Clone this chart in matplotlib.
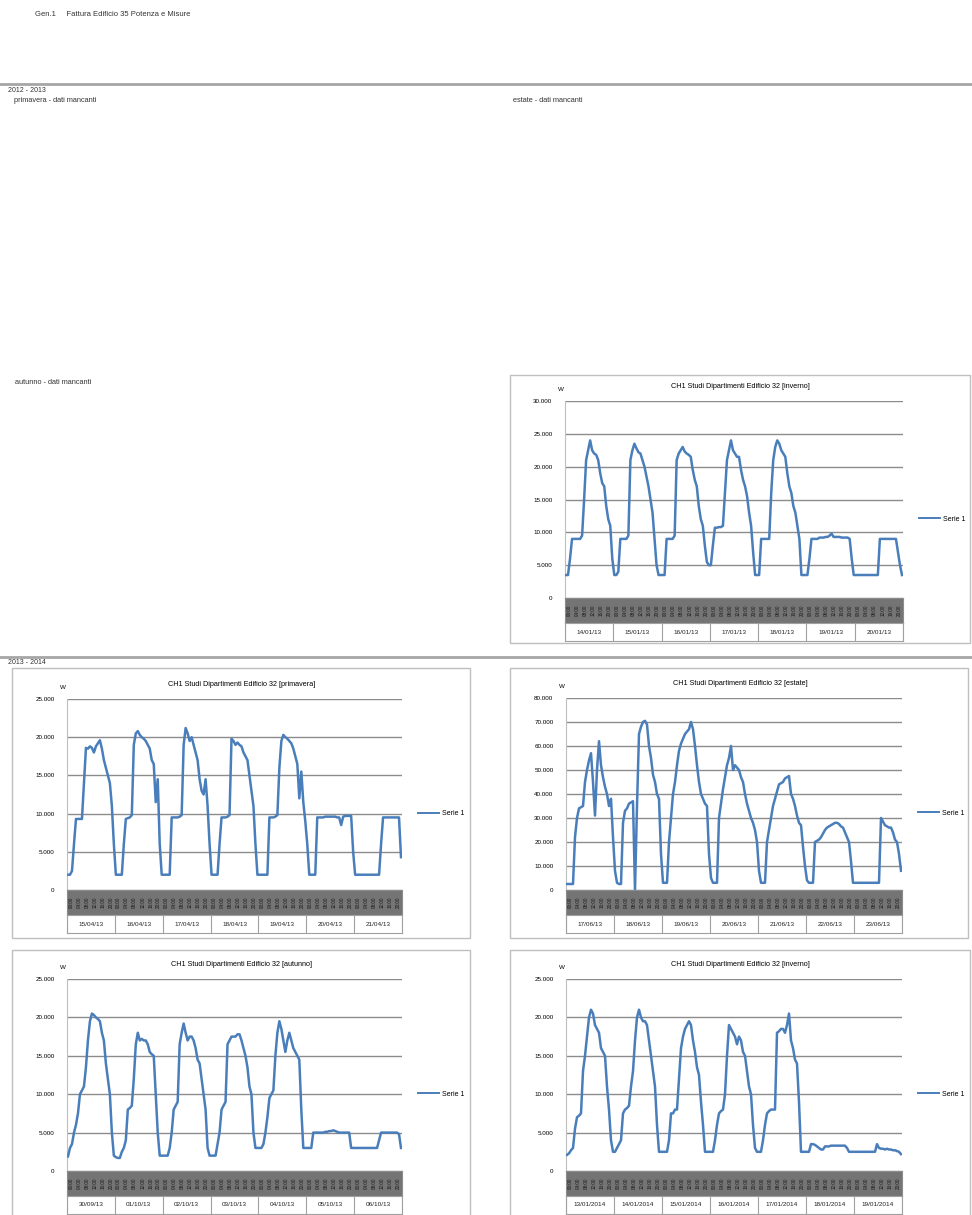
import matplotlib
matplotlib.use('Agg')
import matplotlib.pyplot as plt
from matplotlib.lines import Line2D
from matplotlib.patches import Rectangle
import numpy as np

plt.rcParams['font.family'] = ['Liberation Sans', 'DejaVu Sans']

# ---------------- text ----------------
header_text = "Gen.1     Fattura Edificio 35 Potenza e Misure"
period_labels = ["2012 - 2013", "2013 - 2014"]
missing_labels = ["primavera - dati mancanti", "estate - dati mancanti", "autunno - dati mancanti"]
legend_label = "Serie 1"
unit_label = "W"
hour_labels = ["00:00", "04:00", "08:00", "12:00", "16:00", "20:00"]

title_inv13 = "CH1 Studi Dipartimenti Edificio 32 [inverno]"
title_pri = "CH1 Studi Dipartimenti Edificio 32 [primavera]"
title_est = "CH1 Studi Dipartimenti Edificio 32 [estate]"
title_aut = "CH1 Studi Dipartimenti Edificio 32 [autunno]"
title_inv14 = "CH1 Studi Dipartimenti Edificio 32 [inverno]"

dates_inv13 = ["14/01/13", "15/01/13", "16/01/13", "17/01/13", "18/01/13", "19/01/13", "20/01/13"]
dates_pri = ["15/04/13", "16/04/13", "17/04/13", "18/04/13", "19/04/13", "20/04/13", "21/04/13"]
dates_est = ["17/06/13", "18/06/13", "19/06/13", "20/06/13", "21/06/13", "22/06/13", "23/06/13"]
dates_aut = ["30/09/13", "01/10/13", "02/10/13", "03/10/13", "04/10/13", "05/10/13", "06/10/13"]
dates_inv14 = ["13/01/2014", "14/01/2014", "15/01/2014", "16/01/2014", "17/01/2014", "18/01/2014", "19/01/2014"]

# ---------------- data (W, hourly) ----------------
values_inv13 = [
    3500, 3500, 6000, 9000, 9000, 9000, 9000, 9000, 9500, 15000, 21000, 22500, 24000, 22500, 22000, 21800, 21000, 19000, 17500, 17000, 14000, 12000, 11000, 6000,
    3500, 3500, 4000, 9000, 9000, 9000, 9000, 9500, 21000, 22500, 23500, 22800, 22200, 22000, 21000, 20000, 18500, 17000, 15000, 13000, 9000, 5000, 3500, 3500,
    3500, 3500, 9000, 9000, 9000, 9000, 9500, 21000, 22000, 22500, 23000, 22300, 22000, 21800, 21500, 19500, 18000, 17000, 14000, 12000, 11000, 8000, 5500, 5000,
    5000, 8000, 10700, 10700, 10800, 10800, 11000, 16000, 21000, 22500, 24000, 22500, 22000, 21500, 21500, 19500, 18000, 17000, 15500, 13000, 11000, 7000, 3500, 3500,
    3500, 9000, 9000, 9000, 9000, 9000, 16000, 21000, 23000, 24000, 23500, 22500, 22000, 21500, 19000, 17000, 16000, 14000, 13000, 11000, 9000, 3500, 3500, 3500,
    3500, 6000, 9000, 9000, 9000, 9000, 9200, 9200, 9200, 9300, 9300, 9500, 9800, 9300, 9300, 9300, 9300, 9200, 9200, 9200, 9200, 9000, 6000, 3500,
    3500, 3500, 3500, 3500, 3500, 3500, 3500, 3500, 3500, 3500, 3500, 3500, 9000, 9000, 9000, 9000, 9000, 9000, 9000, 9000, 9000, 7000, 5000, 3500,
]
values_pri = [
    2000, 2000, 2500, 6000, 9300, 9300, 9300, 9300, 14000, 18600, 18500, 18800, 18600, 18000, 18800, 19200, 19600, 18500, 17000, 16000, 15000, 14000, 11000, 6000,
    2000, 2000, 2000, 2000, 6000, 9300, 9400, 9500, 9800, 19000, 20500, 20800, 20300, 20000, 19800, 19500, 19000, 18500, 17000, 16500, 11500, 14500, 6000, 2000,
    2000, 2000, 2000, 2000, 9500, 9500, 9500, 9500, 9600, 9800, 19000, 21200, 20500, 19500, 20000, 19000, 18000, 17000, 14500, 13000, 12500, 14500, 11000, 6000,
    2000, 2000, 2000, 2000, 6000, 9500, 9500, 9500, 9600, 9800, 19800, 19500, 19000, 19300, 19000, 18800, 18000, 17500, 17000, 15000, 13000, 11000, 6000, 2000,
    2000, 2000, 2000, 2000, 2000, 9500, 9500, 9500, 9600, 9800, 16000, 19500, 20300, 20000, 19800, 19500, 19200, 18500, 17500, 16500, 12000, 15500, 11500, 9000,
    6000, 2000, 2000, 2000, 2000, 9500, 9500, 9500, 9500, 9600, 9600, 9600, 9600, 9600, 9600, 9500, 9500, 8500, 9600, 9700, 9700, 9700, 9700, 5000,
    2000, 2000, 2000, 2000, 2000, 2000, 2000, 2000, 2000, 2000, 2000, 2000, 2000, 6000, 9500, 9500, 9500, 9500, 9500, 9500, 9500, 9500, 9500, 4300,
]
values_est = [
    2500, 2500, 2500, 2500, 22000, 30000, 34000, 34500, 35000, 45000, 50000, 54000, 57000, 45000, 31000, 50000, 62000, 52000, 47000, 43000, 40000, 35000, 38000, 22000,
    8000, 3000, 2500, 2500, 28000, 33000, 34000, 36000, 36500, 37000, 0, 35000, 65000, 68000, 70000, 70500, 69000, 60000, 55000, 48000, 45000, 40000, 38000, 15000,
    3000, 3000, 3000, 20000, 30000, 40000, 45000, 52000, 58000, 61000, 63000, 65000, 66000, 67000, 70000, 67000, 60000, 52000, 45000, 40000, 38000, 36000, 35000, 15000,
    5000, 3000, 3000, 3000, 30000, 36000, 42000, 47000, 52000, 55000, 60000, 50000, 52000, 51000, 50000, 47000, 45000, 40000, 36000, 33000, 30000, 28000, 25000, 20000,
    8000, 3000, 3000, 3000, 20000, 25000, 30000, 35000, 38000, 41000, 44000, 44500, 45000, 46500, 47000, 47500, 40000, 38000, 35000, 31000, 28000, 27000, 18000, 10000,
    4000, 3000, 3000, 3000, 20000, 20500, 21000, 22000, 23500, 25000, 26000, 26500, 27000, 27500, 28000, 28000, 27500, 26500, 26000, 24000, 22000, 20000, 12000, 3000,
    3000, 3000, 3000, 3000, 3000, 3000, 3000, 3000, 3000, 3000, 3000, 3000, 3000, 30000, 28500, 27000, 26500, 26000, 26000, 24000, 21000, 20000, 15000, 8000,
]
values_aut = [
    1900, 3000, 3500, 5000, 6000, 7500, 10000, 10500, 11000, 13500, 17000, 19500, 20500, 20300, 20000, 19800, 19500, 18000, 17000, 14000, 12000, 10000, 5000, 2000,
    1800, 1700, 1700, 2500, 3000, 4000, 8000, 8200, 8500, 12000, 16500, 18000, 17000, 17200, 17000, 17000, 16500, 15500, 15200, 15000, 10000, 5000, 2000, 2000,
    2000, 2000, 2000, 3000, 5000, 8000, 8500, 9000, 16500, 18000, 19200, 18000, 17000, 17500, 17500, 17000, 16000, 14500, 14000, 12000, 10000, 8000, 3000, 2000,
    2000, 2000, 2000, 3500, 5000, 8000, 8500, 9000, 16500, 17000, 17500, 17500, 17500, 17800, 17800, 17000, 16000, 15000, 13500, 11000, 10000, 5000, 3000, 3000,
    3000, 3000, 3500, 5000, 7000, 9500, 10000, 10500, 15000, 18000, 19500, 18500, 17000, 15500, 17000, 18000, 17000, 16000, 15500, 15000, 14500, 8000, 3000, 3000,
    3000, 3000, 3000, 5000, 5000, 5000, 5000, 5000, 5000, 5100, 5100, 5200, 5200, 5300, 5200, 5100, 5000, 5000, 5000, 5000, 5000, 5000, 3000, 3000,
    3000, 3000, 3000, 3000, 3000, 3000, 3000, 3000, 3000, 3000, 3000, 3000, 4000, 5000, 5000, 5000, 5000, 5000, 5000, 5000, 5000, 5000, 4800, 3000,
]
values_inv14 = [
    2100, 2300, 2700, 3000, 5500, 7000, 7200, 7500, 13000, 15000, 17500, 20000, 21000, 20500, 19000, 18500, 18000, 16000, 15500, 15000, 11000, 8000, 4000, 2500,
    2500, 3000, 3500, 4000, 7500, 8000, 8200, 8500, 11000, 13000, 17000, 20000, 21000, 20000, 19500, 19500, 19000, 17000, 15000, 13000, 11000, 6000, 2500, 2500,
    2500, 2500, 2500, 4000, 7500, 7500, 8000, 8000, 12000, 16000, 17500, 18500, 19000, 19500, 19000, 17000, 15500, 13500, 12500, 9000, 6000, 2500, 2500, 2500,
    2500, 2500, 4000, 6000, 7500, 7800, 8000, 10000, 15000, 19000, 18500, 18000, 17500, 16500, 17500, 17000, 15500, 15000, 13000, 11000, 10000, 6000, 3000, 2500,
    2500, 2500, 4000, 6000, 7500, 7800, 8000, 8000, 8000, 18000, 18200, 18500, 18500, 18000, 19000, 20500, 17000, 16000, 14500, 14000, 9000, 2500, 2500, 2500,
    2500, 2500, 3500, 3500, 3400, 3200, 3000, 2800, 2800, 3200, 3200, 3200, 3300, 3300, 3300, 3300, 3300, 3300, 3300, 3300, 3000, 2500, 2500, 2500,
    2500, 2500, 2500, 2500, 2500, 2500, 2500, 2500, 2500, 2500, 2500, 3500, 3000, 2900, 2900, 2800, 2900, 2800, 2800, 2700, 2700, 2600, 2500, 2200,
]

# ---------------- figure ----------------
W, H = 972, 1215
fig = plt.figure(figsize=(W / 100, H / 100), dpi=100)
fig.patch.set_facecolor('white')


def fx(x):
    return x / W


def fy(y):
    return 1 - y / H


LINE_COLOR = '#4a7ebb'
GRID_COLOR = '#8c8c8c'
BORDER = '#bfbfbf'


def draw_chart(box, plot, title, dates, values, ymax, ystep):
    bx0, by0, bx1, by1 = box
    fig.add_artist(Rectangle((fx(bx0), fy(by1)), fx(bx1) - fx(bx0), fy(by0) - fy(by1),
                             transform=fig.transFigure, fill=False, ec=BORDER, lw=1.0))
    l, t, r, b = plot
    ax = fig.add_axes([fx(l), fy(b), fx(r) - fx(l), fy(t) - fy(b)])
    n = len(values)
    x = np.arange(n)
    ax.plot(x, values, color=LINE_COLOR, lw=1.8, solid_joinstyle='round', zorder=3)
    ax.set_xlim(-0.5, n - 0.5)
    ax.set_ylim(0, ymax)
    ticks = np.arange(0, ymax + 1, ystep)
    ax.set_yticks(ticks)
    ax.set_yticklabels([f"{int(v):,}".replace(',', '.') for v in ticks], fontsize=4.5)
    ax.yaxis.grid(True, color=GRID_COLOR, lw=1.0)
    ax.set_axisbelow(True)
    for s in ['top', 'right', 'bottom']:
        ax.spines[s].set_visible(False)
    ax.spines['left'].set_color('#bfbfbf')
    ax.tick_params(axis='y', length=0, pad=9)
    ax.set_xticks([])
    ax.text(-0.012, 1.045, unit_label, transform=ax.transAxes, fontsize=4.5,
            ha='center', va='bottom')
    ax.text(0.52, 1.055, title, transform=ax.transAxes, fontsize=5.2,
            ha='center', va='bottom')
    ax.legend(handles=[Line2D([], [], color=LINE_COLOR, lw=1.4)], labels=[legend_label],
              loc='center left', bbox_to_anchor=(1.03, 0.4), frameon=False,
              fontsize=5, handlelength=3.0, handletextpad=0.4)

    band_h, date_h = 25, 18
    axb = fig.add_axes([fx(l), fy(b + band_h), fx(r) - fx(l), band_h / H])
    axb.set_facecolor('#747474')
    axb.set_xlim(-0.5, n - 0.5)
    axb.set_ylim(0, 1)
    axb.set_xticks([])
    axb.set_yticks([])
    for s in axb.spines.values():
        s.set_color('#8c8c8c')
    for i in range(0, n, 4):
        axb.text(i + 1.5, 0.5, hour_labels[(i % 24) // 4], rotation=90, fontsize=3.3,
                 ha='center', va='center', color='#1a1a1a', clip_on=True)

    axd = fig.add_axes([fx(l), fy(b + band_h + date_h), fx(r) - fx(l), date_h / H])
    axd.set_xlim(-0.5, n - 0.5)
    axd.set_ylim(0, 1)
    axd.set_xticks([])
    axd.set_yticks([])
    for s in axd.spines.values():
        s.set_color('#a0a0a0')
    for d in range(len(dates) + 1):
        axd.axvline(d * 24 - 0.5, color='#a0a0a0', lw=0.8)
    for d, lab in enumerate(dates):
        axd.text(d * 24 + 11.5, 0.5, lab, fontsize=4.6, ha='center', va='center',
                 color='#222222')


# header and section texts
fig.text(fx(35), fy(15), header_text, fontsize=5.5, ha='left', va='center', color='#333333')
fig.add_artist(Line2D([0, 1], [fy(84), fy(84)], transform=fig.transFigure, color='#a6a6a6', lw=2))
fig.text(fx(8), fy(90), period_labels[0], fontsize=5, ha='left', va='center', color='#333333')
fig.text(fx(14), fy(101), missing_labels[0], fontsize=5.3, ha='left', va='center', color='#333333')
fig.text(fx(513), fy(101), missing_labels[1], fontsize=5.3, ha='left', va='center', color='#333333')
fig.text(fx(15), fy(383), missing_labels[2], fontsize=5.3, ha='left', va='center', color='#333333')
fig.add_artist(Line2D([0, 1], [fy(657), fy(657)], transform=fig.transFigure, color='#a6a6a6', lw=2))
fig.text(fx(8), fy(662), period_labels[1], fontsize=5, ha='left', va='center', color='#333333')

draw_chart((510, 375, 970, 643), (565, 401, 903, 598), title_inv13, dates_inv13, values_inv13, 30000, 5000)
draw_chart((12, 668, 470, 938), (67, 699, 402, 890), title_pri, dates_pri, values_pri, 25000, 5000)
draw_chart((510, 668, 968, 938), (566, 698, 902, 890), title_est, dates_est, values_est, 80000, 10000)
draw_chart((12, 950, 470, 1228), (67, 979, 402, 1171), title_aut, dates_aut, values_aut, 25000, 5000)
draw_chart((510, 950, 970, 1228), (566, 979, 902, 1171), title_inv14, dates_inv14, values_inv14, 25000, 5000)

fig.savefig('out.png', dpi=100, facecolor='white')
